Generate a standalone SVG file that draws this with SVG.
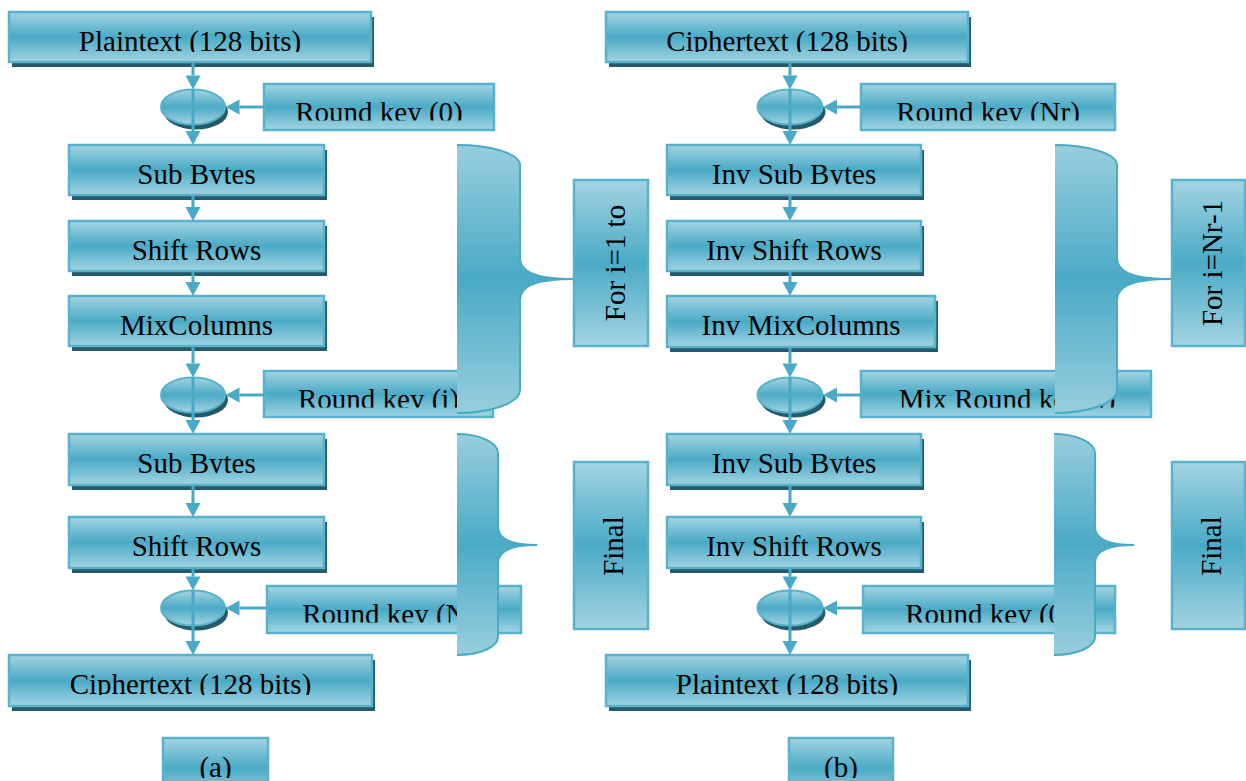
<svg xmlns="http://www.w3.org/2000/svg" width="1246" height="781" viewBox="0 0 1246 781">
<defs>
<linearGradient id="gBox" x1="0" y1="0" x2="0" y2="1">
<stop offset="0" stop-color="#a3d4e2"/>
<stop offset="0.5" stop-color="#4aaac6"/>
<stop offset="1" stop-color="#a3d4e2"/>
</linearGradient>
<linearGradient id="gBr" x1="0" y1="0" x2="0" y2="1">
<stop offset="0" stop-color="#98cede"/>
<stop offset="0.5" stop-color="#4aaac6"/>
<stop offset="1" stop-color="#98cede"/>
</linearGradient>
<clipPath id="cm" clipPathUnits="objectBoundingBox"><rect x="-0.1" y="-0.5" width="1.2" height="1.336"/></clipPath>
<clipPath id="ck" clipPathUnits="objectBoundingBox"><rect x="-0.1" y="-0.5" width="1.2" height="1.243"/></clipPath>
<marker id="ah" markerUnits="userSpaceOnUse" markerWidth="14" markerHeight="15" refX="0" refY="7.5" orient="auto" overflow="visible"><path d="M0,0 L14,7.5 L0,15 z" fill="#4aaac6"/></marker>
<style>
.box{fill:url(#gBox);stroke:#58b2cb;stroke-width:2.5}
.sh{fill:#245a6b}
.t{font-family:"Liberation Serif","Times New Roman",serif;font-size:29px;fill:#000;text-anchor:middle}
.tm{clip-path:url(#cm)}
.tk{clip-path:url(#ck)}
.ln{stroke:#4aaac6;stroke-width:3;fill:none;marker-end:url(#ah)}
.ell{fill:url(#gBox);stroke:#58b2cb;stroke-width:2}
.brace{fill:url(#gBr);stroke:#4aaac6;stroke-width:2}
</style>
</defs>
<rect width="1246" height="781" fill="#fff"/>

<!-- Left column (a) -->
<g id="a-plaintext"><rect class="sh" x="12" y="17" width="362" height="50"/><rect class="box" x="9" y="12" width="362" height="50"/><text class="t tm" x="190" y="50.5">Plaintext (128 bits)</text></g>
<g id="a-key0"><rect class="box" x="264" y="84" width="230" height="46"/><text class="t tk" x="379" y="122">Round key (0)</text></g>
<g id="a-xor1"><ellipse class="sh" cx="196" cy="112" rx="32" ry="17.5"/><ellipse class="ell" cx="193" cy="107" rx="32" ry="17.5"/></g>
<g id="a-subbytes1"><rect class="sh" x="72" y="150" width="255" height="50"/><rect class="box" x="69" y="145" width="255" height="50"/><text class="t tm" x="196.5" y="183.5">Sub Bytes</text></g>
<g id="a-shiftrows1"><rect class="sh" x="72" y="226" width="255" height="50"/><rect class="box" x="69" y="221" width="255" height="50"/><text class="t tm" x="196.5" y="259.5">Shift Rows</text></g>
<g id="a-mixcolumns"><rect class="sh" x="72" y="301" width="255" height="50"/><rect class="box" x="69" y="296" width="255" height="50"/><text class="t tm" x="196.5" y="334.5">MixColumns</text></g>
<g id="a-keyi"><rect class="box" x="264" y="371" width="229" height="46"/><text class="t tk" x="378.5" y="409">Round key (i)</text></g>
<g id="a-xor2"><ellipse class="sh" cx="196" cy="400" rx="32" ry="17.5"/><ellipse class="ell" cx="193" cy="395" rx="32" ry="17.5"/></g>
<g id="a-subbytes2"><rect class="sh" x="72" y="439" width="255" height="51"/><rect class="box" x="69" y="434" width="255" height="51"/><text class="t tm" x="196.5" y="472.5">Sub Bytes</text></g>
<g id="a-shiftrows2"><rect class="sh" x="72" y="522" width="255" height="51"/><rect class="box" x="69" y="517" width="255" height="51"/><text class="t tm" x="196.5" y="555.5">Shift Rows</text></g>
<g id="a-keyN"><rect class="box" x="267" y="586" width="254" height="47"/><text class="t tk" x="394" y="624">Round key (Nr)</text></g>
<g id="a-xor3"><ellipse class="sh" cx="196" cy="613" rx="32" ry="17.5"/><ellipse class="ell" cx="193" cy="608" rx="32" ry="17.5"/></g>
<g id="a-ciphertext"><rect class="sh" x="12" y="660" width="363" height="51"/><rect class="box" x="9" y="655" width="363" height="51"/><text class="t tm" x="190.5" y="693.5">Ciphertext (128 bits)</text></g>
<g id="a-label"><rect class="box" x="163" y="738" width="105" height="60"/><text class="t tm" x="215.5" y="776.5">(a)</text></g>

<!-- Right column (b) -->
<g id="b-ciphertext"><rect class="sh" x="609" y="17" width="362" height="50"/><rect class="box" x="606" y="12" width="362" height="50"/><text class="t tm" x="787" y="50.5">Ciphertext (128 bits)</text></g>
<g id="b-keyNr"><rect class="box" x="861" y="84" width="254" height="46"/><text class="t tk" x="988" y="122">Round key (Nr)</text></g>
<g id="b-xor1"><ellipse class="sh" cx="793" cy="112" rx="32.5" ry="17.5"/><ellipse class="ell" cx="790" cy="107" rx="32.5" ry="17.5"/></g>
<g id="b-invsub1"><rect class="sh" x="670" y="150" width="254" height="50"/><rect class="box" x="667" y="145" width="254" height="50"/><text class="t tm" x="794" y="183.5">Inv Sub Bytes</text></g>
<g id="b-invshift1"><rect class="sh" x="670" y="226" width="254" height="50"/><rect class="box" x="667" y="221" width="254" height="50"/><text class="t tm" x="794" y="259.5">Inv Shift Rows</text></g>
<g id="b-invmix"><rect class="sh" x="670" y="301" width="268" height="51"/><rect class="box" x="667" y="296" width="268" height="51"/><text class="t tm" x="801" y="334.5">Inv MixColumns</text></g>
<g id="b-keyi"><rect class="box" x="861" y="371" width="290" height="46"/><text class="t tk" x="1007" y="409">Mix Round key (i)</text></g>
<g id="b-xor2"><ellipse class="sh" cx="793" cy="400" rx="32.5" ry="17.5"/><ellipse class="ell" cx="790" cy="395" rx="32.5" ry="17.5"/></g>
<g id="b-invsub2"><rect class="sh" x="670" y="439" width="254" height="51"/><rect class="box" x="667" y="434" width="254" height="51"/><text class="t tm" x="794" y="472.5">Inv Sub Bytes</text></g>
<g id="b-invshift2"><rect class="sh" x="670" y="522" width="254" height="51"/><rect class="box" x="667" y="517" width="254" height="51"/><text class="t tm" x="794" y="555.5">Inv Shift Rows</text></g>
<g id="b-key0"><rect class="box" x="863" y="586" width="252" height="47"/><text class="t tk" x="989" y="624">Round key (0)</text></g>
<g id="b-xor3"><ellipse class="sh" cx="793" cy="613" rx="32.5" ry="17.5"/><ellipse class="ell" cx="790" cy="608" rx="32.5" ry="17.5"/></g>
<g id="b-plaintext"><rect class="sh" x="609" y="660" width="362" height="51"/><rect class="box" x="606" y="655" width="362" height="51"/><text class="t tm" x="787" y="693.5">Plaintext (128 bits)</text></g>
<g id="b-label"><rect class="box" x="789" y="738" width="104" height="60"/><text class="t tm" x="841" y="776.5">(b)</text></g>

<!-- Connectors -->
<g id="connectors">
<line class="ln" x1="193" y1="62" x2="193" y2="75.5"/>
<line class="ln" x1="193" y1="89.5" x2="193" y2="131"/>
<line class="ln" x1="264" y1="107" x2="239.5" y2="107"/>
<line class="ln" x1="193" y1="195" x2="193" y2="207"/>
<line class="ln" x1="193" y1="271" x2="193" y2="282"/>
<line class="ln" x1="193" y1="346" x2="193" y2="363.5"/>
<line class="ln" x1="193" y1="377.5" x2="193" y2="420"/>
<line class="ln" x1="264" y1="395" x2="239.5" y2="395"/>
<line class="ln" x1="193" y1="485" x2="193" y2="503"/>
<line class="ln" x1="193" y1="568" x2="193" y2="576.5"/>
<line class="ln" x1="193" y1="590.5" x2="193" y2="641"/>
<line class="ln" x1="267" y1="608" x2="239.5" y2="608"/>

<line class="ln" x1="790" y1="62" x2="790" y2="75.5"/>
<line class="ln" x1="790" y1="89.5" x2="790" y2="131"/>
<line class="ln" x1="861" y1="107" x2="837" y2="107"/>
<line class="ln" x1="790" y1="195" x2="790" y2="207"/>
<line class="ln" x1="790" y1="271" x2="790" y2="282"/>
<line class="ln" x1="790" y1="347" x2="790" y2="363.5"/>
<line class="ln" x1="790" y1="377.5" x2="790" y2="420"/>
<line class="ln" x1="861" y1="395" x2="837" y2="395"/>
<line class="ln" x1="790" y1="485" x2="790" y2="503"/>
<line class="ln" x1="790" y1="568" x2="790" y2="576.5"/>
<line class="ln" x1="790" y1="590.5" x2="790" y2="641"/>
<line class="ln" x1="863" y1="608" x2="837" y2="608"/>
</g>

<!-- Braces and loop labels -->
<g id="a-loop-brace"><path class="brace" d="M457,145 A63,20 0 0 1 520,165 L520,258 C520,271 533,279 575,279 C533,279 520,287 520,300 L520,390 A63,23 0 0 1 457,413"/></g>
<g id="a-loop-label"><rect class="box" x="574" y="180" width="74" height="166"/><text class="t" transform="translate(625,263) rotate(-90)">For i=1 to</text></g>
<g id="a-final-brace"><path class="brace" d="M457,434 A41,19 0 0 1 498,453 L498,527 C498,538 508,545 537,545 C508,545 498,552 498,563 L498,637 A41,18 0 0 1 457,655"/></g>
<g id="a-final-label"><rect class="box" x="574" y="462" width="74" height="167"/><text class="t" transform="translate(623,546) rotate(-90)">Final</text></g>

<g id="b-loop-brace"><path class="brace" d="M1055,145 A62,20 0 0 1 1117,165 L1117,258 C1117,271 1130,279 1172,279 C1130,279 1117,287 1117,300 L1117,390 A62,23 0 0 1 1055,413"/></g>
<g id="b-loop-label"><rect class="box" x="1172" y="180" width="73" height="166"/><text class="t" transform="translate(1222,263) rotate(-90)">For i=Nr-1</text></g>
<g id="b-final-brace"><path class="brace" d="M1054,434 A41,19 0 0 1 1095,453 L1095,527 C1095,538 1105,545 1134,545 C1105,545 1095,552 1095,563 L1095,637 A41,18 0 0 1 1054,655"/></g>
<g id="b-final-label"><rect class="box" x="1172" y="462" width="73" height="167"/><text class="t" transform="translate(1221,546) rotate(-90)">Final</text></g>
</svg>
